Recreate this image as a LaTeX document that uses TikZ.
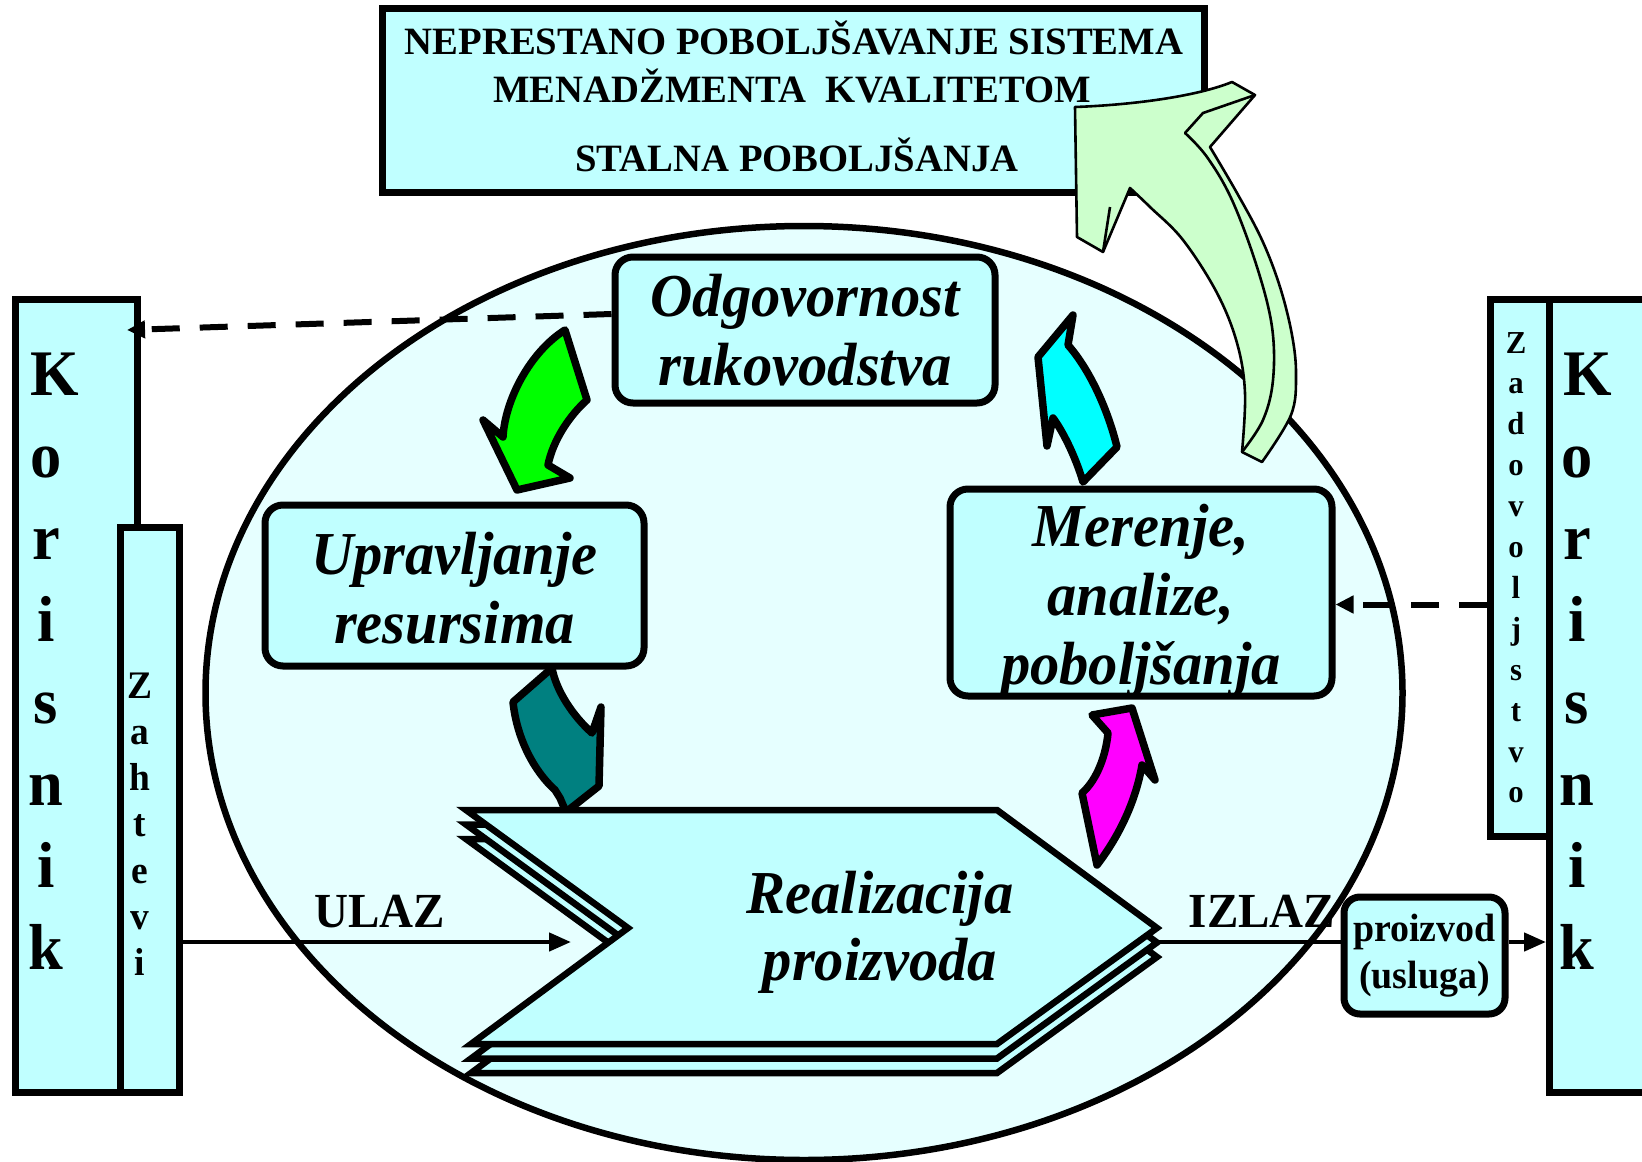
\documentclass[tikz,border=0pt]{standalone}
\usepackage{fontspec}
\setmainfont{Liberation Serif}[FakeStretch=0.96]
\newfontfamily\plainserif{Liberation Serif}
\usetikzlibrary{shapes.geometric,arrows.meta,calc}
\definecolor{boxcyan}{RGB}{192,255,255}
\definecolor{ellcyan}{RGB}{230,255,255}
\definecolor{liteg}{RGB}{204,255,204}
\definecolor{tealc}{RGB}{0,128,128}
\definecolor{greenc}{RGB}{0,255,0}
\definecolor{cyanc}{RGB}{0,255,255}
\definecolor{magentac}{RGB}{255,0,255}
\begin{document}
\begin{tikzpicture}[x=1pt,y=-1pt,
  plainbox/.style={draw, line width=7pt, fill=boxcyan, inner sep=0pt},
  boxtext/.style={align=center, font=\fontsize{61}{69}\selectfont\bfseries\itshape},
  rbox/.style={plainbox, rounded corners=18pt, boxtext},
  titlef/.style={font=\plainserif\fontsize{38.7}{40}\selectfont\bfseries},
  korf/.style={font=\fontsize{65}{70}\selectfont\bfseries},
  carrow/.style={draw, line width=7.5pt, line join=round},
  bigarrow/.style={draw, line width=2.6pt, fill=liteg, line join=round},
  bigline/.style={draw, line width=2.6pt, line join=round},
  chevron/.style={draw, line width=6.5pt, fill=boxcyan, line join=miter},
  dashline/.style={line width=6pt, dash pattern=on 28pt off 20pt, -{Triangle[length=18pt,width=17pt]}},
  solidarrow/.style={line width=4.5pt, -{Triangle[length=22pt,width=18pt]}},
  lbl/.style={font=\fontsize{49}{50}\selectfont\bfseries, anchor=base}
]
\useasboundingbox (0,0) rectangle (1642,1162);

% title
\node[plainbox, minimum width=822pt, minimum height=184pt] (title) at (793,100) {};
\node[titlef, anchor=base] (t1) at (794,54) {NEPRESTANO POBOLJŠAVANJE SISTEMA};
\node[titlef, anchor=base] (t2) at (792,102) {MENADŽMENTA\ \ KVALITETOM};
\node[titlef, anchor=base] (t3) at (797,171) {STALNA POBOLJŠANJA};

% left customer
\node[plainbox, minimum width=122pt, minimum height=793pt, anchor=north west] (korL) at (12,296) {};
\node[plainbox, minimum width=59pt, minimum height=565pt, anchor=north west] (zah) at (117,524) {};
\node[korf, anchor=base] (kl0) at (55,395) {K};
\foreach \l [count=\i from 1] in {o,r,i,s,n,i,k}
  \node[korf, anchor=base] (kl\i) at (46,{395+82*\i}) {\l};
\foreach \l [count=\i from 0] in {Z,a,h,t,e,v,i}
  \node[font=\fontsize{39}{40}\selectfont\bfseries, anchor=base] (zl\i) at (140,{698+46.3*\i}) {\l};

% right customer
\node[plainbox, minimum width=59pt, minimum height=537pt, anchor=north west] (zad) at (1487,296) {};
\node[plainbox, minimum width=120pt, minimum height=793pt, anchor=north west] (korR) at (1546,296) {};
\node[korf, anchor=base] (kr0) at (1588,395) {K};
\foreach \l [count=\i from 1] in {o,r,i,s,n,i,k}
  \node[korf, anchor=base] (kr\i) at (1577,{395+82*\i}) {\l};
\foreach \l [count=\i from 0] in {Z,a,d,o,v,o,l,j,s,t,v,o}
  \node[font=\fontsize{32}{36}\selectfont\bfseries, anchor=base] (dl\i) at (1516,{353+40.9*\i}) {\l};

% ellipse
\node[draw, ellipse, line width=6.5pt, fill=ellcyan, minimum width=1197pt, minimum height=934pt, inner sep=0pt] (ell) at (804,693) {};

% big improvement arrow
\path[bigarrow] (1075,107) .. controls (1130,105) and (1195,97) .. (1232,82) -- (1255,95) --
  plot[smooth, tension=0.6] coordinates {(1210,147) (1237,193) (1262,240) (1280,287) (1292,335) (1296,375) (1291,415) (1262,462)}
  -- plot[smooth, tension=0.6] coordinates {(1242,452) (1245,393) (1237,343) (1217,293) (1183,240) (1150,207) (1130,188)}
  -- (1103,252) -- (1077,237) -- cycle;
\path[bigline] (1255,95) -- (1203,113) -- plot[smooth, tension=0.6] coordinates {(1185,133) (1207,157) (1232,200) (1257,267) (1272,327) (1273,380) (1263,420) (1242,452)};
\path[bigline] (1110,207) -- (1103,252);

% process boxes
\node[rbox, minimum width=380pt, minimum height=146pt] (odg) at (805,330) {Odgovornost\\rukovodstva};
\node[rbox, minimum width=379pt, minimum height=161pt] (upr) at (454.5,585.5) {};
\node[boxtext] (uprT) at ($(upr.center)+(0,3)$) {Upravljanje\\resursima};
\node[rbox, minimum width=382pt, minimum height=207pt] (mer) at (1141,592.5) {};
\node[boxtext] (merT) at ($(mer.center)+(0,8)$) {Merenje,\\analize,\\poboljšanja};

% curved arrows
\path[carrow, fill=greenc] (565,330) -- (587,400) .. controls (570,415) and (553,440) .. (548,465)
  -- (570,478) -- (517,490) -- (483,420) -- (503,437) .. controls (505,400) and (530,352) .. cycle;
\path[carrow, fill=tealc] (513,702) -- (552,668) .. controls (556,690) and (572,715) .. (592,733)
  -- (601,707) -- (599,786) -- (566,812) -- (560,798) -- (555,790) .. controls (535,772) and (517,740) .. cycle;
\path[carrow, fill=cyanc] (1073,315) -- (1038,357) -- (1047,446) -- (1053,418)
  .. controls (1062,430) and (1075,455) .. (1083,482) -- (1117,447)
  .. controls (1108,410) and (1090,370) .. (1068,345) -- cycle;

% realisation chevron
\foreach \s in {29,14.5,0}
  \path[chevron, shift={(0,\s)}] (466,810) -- (997,810) -- (1157,928) -- (997,1044) -- (471,1044) -- (628,928) -- cycle;
\node[align=center, font=\fontsize{61}{67}\selectfont\bfseries\itshape] (real) at (880,932) {Realizacija\\proizvoda};

\path[carrow, fill=magentac] (1097,865) -- (1082,793) .. controls (1097,780) and (1106,755) .. (1108,733)
  -- (1092,715) -- (1132,708) -- (1155,780) -- (1142,765)
  .. controls (1136,800) and (1120,835) .. cycle;

% output box
\node[plainbox, rounded corners=16pt, minimum width=161pt, minimum height=117pt, align=center,
  font=\fontsize{39.5}{47}\selectfont\bfseries] (proiz) at (1424.5,955.5) {proizvod\\(usluga)};

% labels
\node[lbl] (ulaz) at (380,927) {ULAZ};
\node[lbl] (izlaz) at (1262,927) {IZLAZ};

% connectors
\coordinate (ulazEnd) at (571,942);
\coordinate (izlazStart) at (1157,942);
\draw[solidarrow] (zah.east |- ulazEnd) -- (ulazEnd);
\draw[line width=4.5pt] (izlazStart) -- (proiz.west |- izlazStart);
\draw[solidarrow] (proiz.east |- izlazStart) -- (korR.west |- izlazStart);
\coordinate (odgOut) at ($(odg.west)+(0,-16)$);
\coordinate (korIn) at ($(korL.north east)+(-14,34)$);
\draw[dashline] (odgOut) -- (korIn);
\coordinate (merIn) at ($(mer.east)+(0,12)$);
\draw[dashline] (zad.west |- merIn) -- (merIn);
\end{tikzpicture}
\end{document}
